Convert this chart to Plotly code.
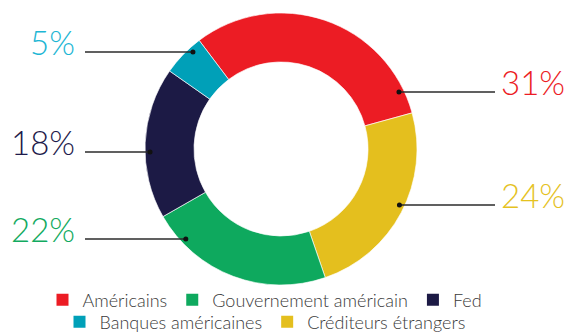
import math
import plotly.graph_objects as go

# ---- data ----
categories = ["Américains", "Créditeurs étrangers", "Gouvernement américain", "Fed", "Banques américaines"]
values = [31, 24, 22, 18, 5]
legend_row1 = ["Américains", "Gouvernement américain", "Fed"]
legend_row2 = ["Banques américaines", "Créditeurs étrangers"]

# ---- style ----
slice_colors = {
    "Américains": "#EC1C24",
    "Créditeurs étrangers": "#E4BF1E",
    "Gouvernement américain": "#0EA95E",
    "Fed": "#1C1A45",
    "Banques américaines": "#00A0B8",
}
label_colors = {
    "Américains": "#EC1C24",
    "Créditeurs étrangers": "#E5C21F",
    "Gouvernement américain": "#12AA60",
    "Fed": "#1E1B4B",
    "Banques américaines": "#1DB6D4",
}
label_line_y = {  # pixel row of each leader line
    "Américains": 92,
    "Créditeurs étrangers": 205,
    "Gouvernement américain": 239,
    "Fed": 152,
    "Banques américaines": 52,
}

W, H = 567, 333
CX, CY, R = 281, 149, 136
HOLE = 0.64
ROT = -37
DOT_R = 131
LEFT_TEXT_X, LEFT_LINE_X = 77, 85
RIGHT_TEXT_X, RIGHT_LINE_X = 499, 495
FONT = "Lato"


def px(x):
    return x / W


def py(y):
    return 1 - y / H


fig = go.Figure()
fig.add_trace(go.Pie(
    labels=categories, values=values, sort=False, direction="clockwise",
    rotation=ROT, hole=HOLE, textinfo="none", hoverinfo="label+percent",
    marker=dict(colors=[slice_colors[c] for c in categories],
                line=dict(color="rgba(255,255,255,0.8)", width=0.8)),
    domain=dict(x=[px(CX - R), px(CX + R)], y=[py(CY + R), py(CY - R)]),
    showlegend=False,
))

# legend entries via dummy traces (two centred rows)
for name in legend_row1:
    fig.add_trace(go.Scatter(x=[None], y=[None], mode="markers", name=name,
                             marker=dict(symbol="square", size=12, color=slice_colors[name]),
                             legend="legend"))
for name in legend_row2:
    fig.add_trace(go.Scatter(x=[None], y=[None], mode="markers", name=name,
                             marker=dict(symbol="square", size=12, color=slice_colors[name]),
                             legend="legend2"))

# leader lines, dots and percentage labels
total = sum(values)
angle = ROT
shapes, annotations = [], []
for cat, v in zip(categories, values):
    span = 360 * v / total
    mid = math.radians(angle + span / 2)
    angle += span
    side = 1 if math.sin(mid) > 0 else -1
    ly = label_line_y[cat]
    dx = math.sqrt(max(DOT_R ** 2 - (ly - CY) ** 2, 0))
    dot_x = CX + side * dx
    line_end = RIGHT_LINE_X if side > 0 else LEFT_LINE_X
    shapes.append(dict(type="line", xref="paper", yref="paper",
                       x0=px(dot_x), x1=px(line_end), y0=py(ly), y1=py(ly),
                       line=dict(color="#2b2b2b", width=1.5)))
    shapes.append(dict(type="circle", xref="paper", yref="paper",
                       x0=px(dot_x - 2.5), x1=px(dot_x + 2.5), y0=py(ly + 2.5), y1=py(ly - 2.5),
                       fillcolor="#111111", line=dict(width=0)))
    annotations.append(dict(
        text=f"{v}%", xref="paper", yref="paper", showarrow=False,
        x=px(RIGHT_TEXT_X if side > 0 else LEFT_TEXT_X), y=py(ly - 10),
        xanchor="left" if side > 0 else "right", yanchor="middle",
        font=dict(family=FONT, size=33, color=label_colors[cat], weight=300),
    ))

legend_common = dict(orientation="h", xanchor="center", yanchor="middle",
                     font=dict(family=FONT, size=18, color="#3a3a3a", weight=300),
                     bgcolor="rgba(0,0,0,0)", itemclick=False, itemdoubleclick=False,
                     tracegroupgap=0, itemsizing="constant")
fig.update_layout(
    width=W, height=H, margin=dict(l=0, r=0, t=0, b=0, autoexpand=False),
    paper_bgcolor="white", plot_bgcolor="white",
    xaxis=dict(visible=False), yaxis=dict(visible=False),
    shapes=shapes, annotations=annotations,
    legend=dict(x=px(265), y=py(300), **legend_common),
    legend2=dict(x=px(265), y=py(322), **legend_common),
)

fig.write_html("out.html")
